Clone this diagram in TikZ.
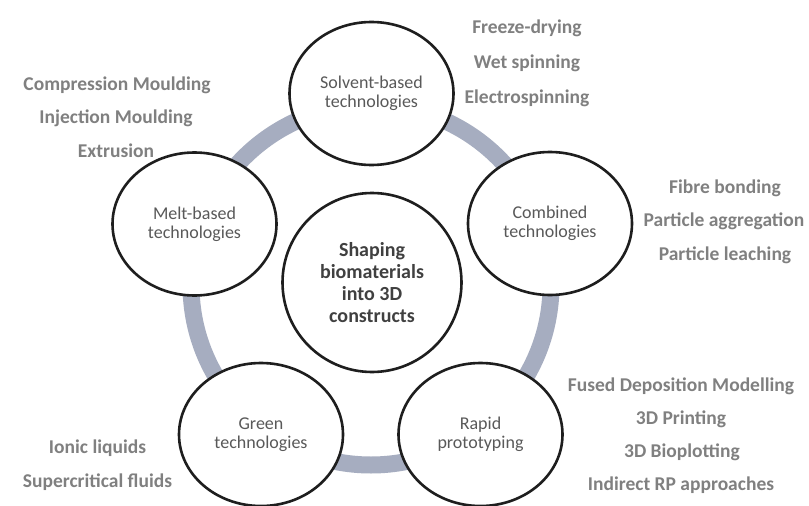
\documentclass[tikz,border=0pt]{standalone}
\usepackage{fontspec}
\setmainfont{Carlito}
\usetikzlibrary{shapes.geometric}
\definecolor{ringgray}{HTML}{A6ADC0}
\definecolor{listgray}{HTML}{808080}
\definecolor{techgray}{HTML}{595959}
\definecolor{hubgray}{HTML}{404040}
\definecolor{edgeblack}{HTML}{1E1E1E}
\begin{document}
\begin{tikzpicture}[x=1pt,y=-1pt,
  ring/.style={draw=ringgray,line width=17pt},
  techbubble/.style={ellipse,draw=edgeblack,line width=2.6pt,fill=white,
    minimum width=164pt,minimum height=143pt,inner sep=0pt,align=center,
    text=techgray,font=\fontsize{18}{19}\selectfont},
  hubbubble/.style={circle,draw=edgeblack,line width=2.6pt,fill=white,
    minimum size=179pt,inner sep=0pt,align=center,
    text=hubgray,font=\fontsize{20}{21.8}\selectfont\bfseries},
  method/.style={anchor=base,inner sep=0pt,text=listgray,
    font=\fontsize{19.5}{20}\selectfont\bfseries}]
\useasboundingbox[fill=white] (0,0) rectangle (809,506);

% ring linking the five technology families
\coordinate (ringc) at (371,285);
\draw[ring] (ringc) circle[radius=180];

% central theme
\node[hubbubble] (hub) at (372,282.5) {Shaping\\biomaterials\\into 3D\\constructs};

% technology families
\node[techbubble] (solvent)  at (371.5,93.5) {Solvent-based\\technologies};
\node[techbubble] (melt)     at (194.5,224)  {Melt-based\\technologies};
\node[techbubble] (combined) at (550,223.5)  {Combined\\technologies};
\node[techbubble] (green)    at (261,434.5)  {Green\\technologies};
\node[techbubble] (rapid)    at (480.5,434.5){Rapid\\prototyping};

% methods of each family
\node[method] (sv1) at (527,33)  {Freeze-drying};
\node[method] (sv2) at (527,68)  {Wet spinning};
\node[method] (sv3) at (527,103) {Electrospinning};

\node[method] (ml1) at (117,90)  {Compression Moulding};
\node[method] (ml2) at (116,123) {Injection Moulding};
\node[method] (ml3) at (116,157) {Extrusion};

\node[method] (cb1) at (725,193) {Fibre bonding};
\node[method] (cb2) at (724,226) {Particle aggregation};
\node[method] (cb3) at (725,260) {Particle leaching};

\node[method] (rp1) at (681,391) {Fused Deposition Modelling};
\node[method] (rp2) at (681,424) {3D Printing};
\node[method] (rp3) at (682,457) {3D Bioplotting};
\node[method] (rp4) at (681,490) {Indirect RP approaches};

\node[method] (gr1) at (97.5,453) {Ionic liquids};
\node[method] (gr2) at (97.5,487) {Supercritical fluids};
\end{tikzpicture}
\end{document}
